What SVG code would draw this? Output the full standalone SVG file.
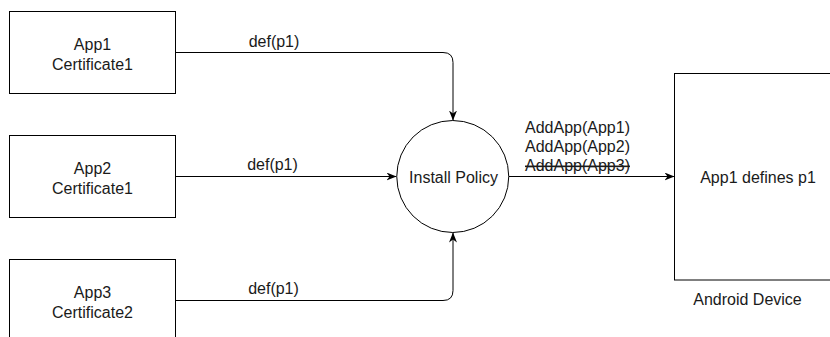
<svg xmlns="http://www.w3.org/2000/svg" width="830" height="337" viewBox="0 0 830 337">
  <style>
    .box { fill: #ffffff; stroke: #000000; stroke-width: 1; }
    .edge { fill: none; stroke: #000000; stroke-width: 1; }
    text { font-family: "Liberation Sans", Arial, Helvetica, sans-serif; font-size: 16px; fill: #1a1a1a; }
    .c { text-anchor: middle; }
    .strike { text-decoration: line-through; }
  </style>
  <defs>
    <marker id="arrow" viewBox="0 0 10 8" refX="10" refY="4" markerWidth="10" markerHeight="8" markerUnits="userSpaceOnUse" orient="auto">
      <path d="M0,0 L10,4 L0,8 L3,4 Z" fill="#000000"/>
    </marker>
  </defs>

  <rect width="830" height="337" fill="#ffffff"/>

  <!-- connectors -->
  <g id="connectors">
    <path class="edge" d="M176,52.5 H443 Q453,52.5 453,62.5 V120.5" marker-end="url(#arrow)"/>
    <text class="c" x="274" y="46.5">def(p1)</text>

    <path class="edge" d="M176,176.5 H396.5" marker-end="url(#arrow)"/>
    <text class="c" x="272.5" y="169.5">def(p1)</text>

    <path class="edge" d="M176,300.5 H443 Q453,300.5 453,290.5 V232.5" marker-end="url(#arrow)"/>
    <text class="c" x="273.5" y="294">def(p1)</text>

    <path class="edge" d="M508.5,176.5 H674.5" marker-end="url(#arrow)"/>
    <text x="525" y="133">AddApp(App1)</text>
    <text x="525" y="152">AddApp(App2)</text>
    <text class="strike" x="525" y="171">AddApp(App3)</text>
  </g>

  <!-- nodes -->
  <g id="app1">
    <rect class="box" x="9.5" y="11.5" width="166" height="82"/>
    <text class="c" x="92.5" y="49.5">App1</text>
    <text class="c" x="92.5" y="70">Certificate1</text>
  </g>

  <g id="app2">
    <rect class="box" x="9.5" y="135.5" width="166" height="82"/>
    <text class="c" x="92.5" y="173.5">App2</text>
    <text class="c" x="92.5" y="194">Certificate1</text>
  </g>

  <g id="app3">
    <rect class="box" x="9.5" y="259.5" width="166" height="82"/>
    <text class="c" x="92.5" y="297.5">App3</text>
    <text class="c" x="92.5" y="318">Certificate2</text>
  </g>

  <g id="install-policy">
    <circle class="box" cx="452.75" cy="176.5" r="56"/>
    <text class="c" x="453.5" y="182.5">Install Policy</text>
  </g>

  <g id="android-device">
    <rect class="box" x="674.5" y="73.5" width="167" height="206.5"/>
    <text class="c" x="758" y="183">App1 defines p1</text>
    <text class="c" x="747.5" y="305">Android Device</text>
  </g>
</svg>
